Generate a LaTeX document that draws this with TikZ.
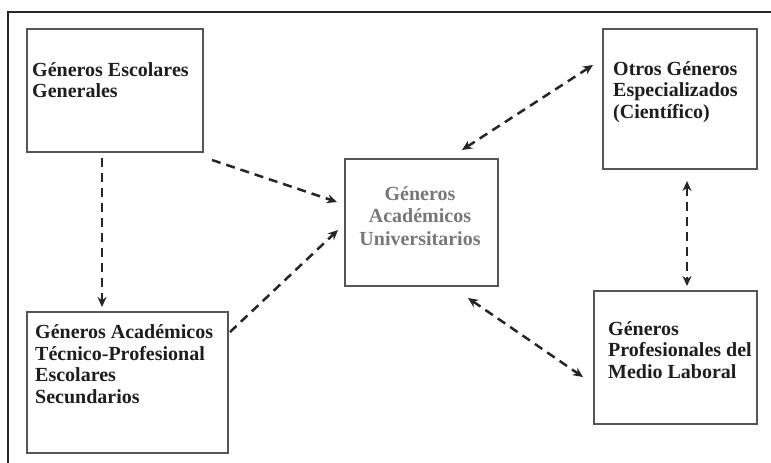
\documentclass[tikz,border=0pt]{standalone}
\usepackage{fontspec}
\setmainfont{Liberation Serif}
\usetikzlibrary{arrows.meta,calc}
\definecolor{boxgray}{RGB}{85,85,85}
\definecolor{txtdark}{RGB}{30,30,30}
\definecolor{txtgray}{RGB}{120,120,120}
\begin{document}
\begin{tikzpicture}[x=1pt,y=-1pt,
  box/.style={draw=boxgray, line width=2pt, anchor=north west, inner sep=0pt, outer sep=0pt},
  txt/.style={inner sep=0pt, anchor=west, align=left, text=txtdark, font=\fontsize{20}{21.5}\selectfont\bfseries},
  ctxt/.style={inner sep=0pt, align=center, text=txtgray, font=\fontsize{20}{22.5}\selectfont\bfseries},
  conn/.style={draw=black!85, line width=2.5pt, dash pattern=on 9pt off 6pt, -{Stealth[length=10pt,width=9pt]}},
  bconn/.style={conn, {Stealth[length=10pt,width=9pt]}-{Stealth[length=10pt,width=9pt]}}]
\useasboundingbox (0,0) rectangle (771,463);
\fill[white] (0,0) rectangle (771,463);
% outer frame (cut at right and bottom)
\draw[line width=1.3pt, black!85] (8,470) -- (8,12) -- (780,12);
% boxes
\node[box, minimum width=176pt, minimum height=123pt] (A) at (27,29) {};
\node[box, minimum width=201pt, minimum height=141pt] (B) at (27,312) {};
\node[box, minimum width=153pt, minimum height=127pt] (C) at (345,159) {};
\node[box, minimum width=154pt, minimum height=140pt] (D) at (603,29) {};
\node[box, minimum width=163pt, minimum height=133pt] (E) at (594,291) {};
% texts
\node[txt] (tA) at (32,80) {Géneros Escolares\\Generales};
\node[txt] (tB) at (35,364) {Géneros Académicos\\Técnico-Profesional\\Escolares\\Secundarios};
\node[ctxt] (tC) at (420,216) {Géneros\\Académicos\\Universitarios};
\node[txt] (tD) at (613,92) {Otros Géneros\\Especializados\\(Científico)};
\node[txt] (tE) at (608,350) {Géneros\\Profesionales del\\Medio Laboral};
% connectors
\draw[conn] ($(A.south east)+(9,8)$) -- ($(C.north west)+(-8,43)$);
\draw[conn] ($(B.north east)+(2,20)$) -- ($(C.north west)+(-7,71)$);
\draw[conn] ($(A.south west)+(75,6)$) -- ($(B.north west)+(75,-5)$);
\draw[bconn] ($(C.north west)+(117,-9)$) -- ($(D.north west)+(-10,36)$);
\draw[bconn] ($(D.south west)+(84,12)$) -- ($(E.north west)+(93,-5)$);
\draw[bconn] ($(C.south west)+(123,12)$) -- ($(E.north west)+(-11,86)$);
\end{tikzpicture}
\end{document}
